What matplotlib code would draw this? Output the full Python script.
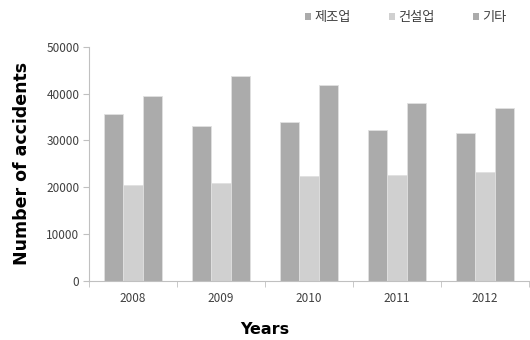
import numpy as np
import matplotlib
matplotlib.use("Agg")
import matplotlib.pyplot as plt
from matplotlib.patches import Patch

plt.rcParams['font.family'] = ['Noto Sans CJK KR', 'DejaVu Sans']

years = ['2008', '2009', '2010', '2011', '2012']
manufacturing = [35700, 33000, 34000, 32200, 31600]   # 제조업
construction = [20450, 21000, 22400, 22600, 23300]    # 건설업
other = [39500, 43800, 41900, 38000, 37000]           # 기타
series_names = ['제조업', '건설업', '기타']

dark = '#ababab'
light = '#d0d0d0'
colors = [dark, light, dark]

fig = plt.figure(figsize=(5.3, 3.4), dpi=100)
ax = fig.add_axes([0.168, 0.174, 0.83, 0.688])

x = np.arange(len(years))
w = 0.22
for i, (vals, c) in enumerate(zip([manufacturing, construction, other], colors)):
    ax.bar(x + (i - 1) * w, vals, width=w, color=c, edgecolor='#e0e0e0', linewidth=0.6)

ax.set_ylim(0, 50000)
ax.set_xlim(-0.5, len(years) - 0.5)
ax.set_yticks(range(0, 50001, 10000))
ax.set_xticks(x)
ax.set_xticklabels(years)
ax.set_xticks(np.arange(-0.5, len(years) - 0.4, 1), minor=True)

for s in ['top', 'right']:
    ax.spines[s].set_visible(False)
for s in ['left', 'bottom']:
    ax.spines[s].set_color('#c0c0c0')
    ax.spines[s].set_linewidth(0.8)

ax.tick_params(axis='y', length=4, color='#c0c0c0', labelsize=8.5, labelcolor='#404040', pad=3)
ax.tick_params(axis='x', which='major', length=0, labelsize=8.5, labelcolor='#404040', pad=8)
ax.tick_params(axis='x', which='minor', length=4, color='#c0c0c0')

fig.text(0.042, 0.52, 'Number of accidents', rotation=90, ha='center', va='center',
         fontsize=12.5, fontweight='bold', family=['DejaVu Sans'])
fig.text(0.50, 0.03, 'Years', ha='center', va='center',
         fontsize=11.5, fontweight='bold', family=['DejaVu Sans'])

handles = [Patch(facecolor=c, edgecolor='none') for c in colors]
fig.legend(handles, series_names, loc='center', bbox_to_anchor=(0.765, 0.948), ncol=3,
           frameon=False, fontsize=9.5, handlelength=0.5, handleheight=0.5,
           handletextpad=0.2, columnspacing=2.9, labelcolor='#404040')

fig.savefig('out.png', dpi=100)
